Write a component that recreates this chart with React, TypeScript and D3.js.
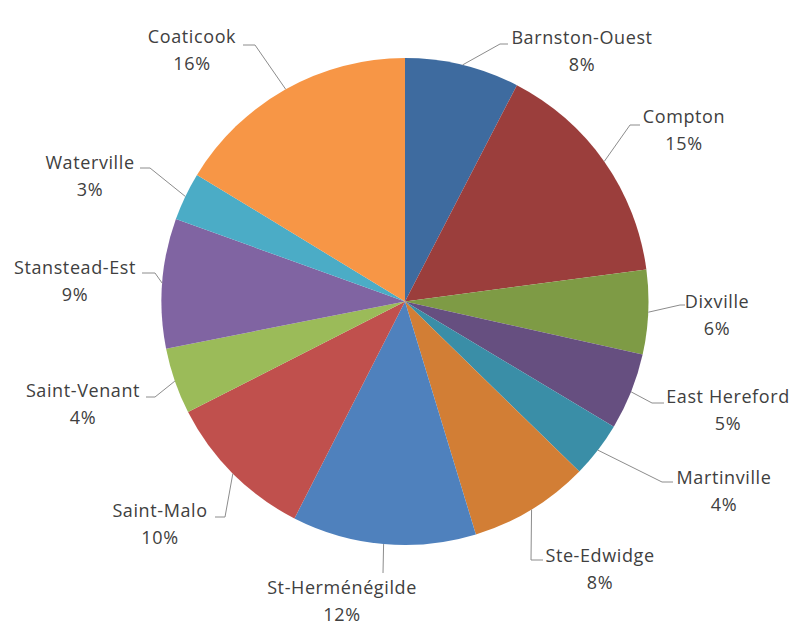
import React from "react";
import * as d3 from "d3";

const categories = [
  "Barnston-Ouest", "Compton", "Dixville", "East Hereford", "Martinville", "Ste-Edwidge",
  "St-Herménégilde", "Saint-Malo", "Saint-Venant", "Stanstead-Est", "Waterville", "Coaticook",
];
const values = [7.6, 15.3, 5.6, 5.1, 3.7, 8.0, 12.2, 10.0, 4.4, 8.6, 3.2, 16.3];
const colors = [
  "#3E6B9F", "#9B3E3C", "#7E9B45", "#664F80", "#3A8EA7", "#D27E35",
  "#4F81BD", "#C0504D", "#9BBB59", "#8064A2", "#4BACC6", "#F79646",
];

// label layout: text centre x, first baseline y, elbow point, leader end point
const labelLayout = [
  { x: 582, y: 44, elbow: [500, 44], end: [508, 44] },
  { x: 684, y: 123, elbow: [630, 125], end: [640, 125] },
  { x: 717, y: 308, elbow: [680, 305], end: [685, 305] },
  { x: 728, y: 403, elbow: [652, 403], end: [664, 403] },
  { x: 724, y: 484, elbow: [662, 482], end: [673, 482] },
  { x: 600, y: 562, elbow: [531, 560], end: [543, 560] },
  { x: 342, y: 594, elbow: [383, 573], end: [383, 573] },
  { x: 160, y: 517, elbow: [225, 517], end: [215, 517] },
  { x: 83, y: 397, elbow: [155, 397], end: [146, 397] },
  { x: 75, y: 274, elbow: [155, 273], end: [142, 273] },
  { x: 90, y: 169, elbow: [150, 168], end: [140, 168] },
  { x: 192, y: 43, elbow: [255, 45], end: [243, 45] },
];

const W = 794, H = 625;
const cx = 405, cy = 301.5, R = 243.5;

export default function App() {
  const total = d3.sum(values);
  const pie = d3.pie<number>().value((d) => d).sort(null);
  const arcs = pie(values);
  const arcGen = d3.arc<d3.PieArcDatum<number>>().innerRadius(0).outerRadius(R);
  const font = "'Open Sans', sans-serif";
  return (
    <svg width={W} height={H} style={{ position: "absolute", left: 0, top: 0, background: "#fff" }}>
      <g transform={`translate(${cx},${cy})`}>
        {arcs.map((a, i) => (
          <path key={i} d={arcGen(a) || ""} fill={colors[i]} />
        ))}
      </g>
      {arcs.map((a, i) => {
        const mid = (a.startAngle + a.endAngle) / 2;
        const sx = cx + R * Math.sin(mid);
        const sy = cy - R * Math.cos(mid);
        const L = labelLayout[i];
        const pct = Math.round((values[i] / total) * 100);
        return (
          <g key={i}>
            <polyline
              points={`${sx},${sy} ${L.elbow[0]},${L.elbow[1]} ${L.end[0]},${L.end[1]}`}
              fill="none"
              stroke="#8c8c8c"
              strokeWidth={1}
            />
            <text x={L.x} y={L.y} textAnchor="middle" fontFamily={font} fontSize={18} letterSpacing={0.6} fill="#404040">
              {categories[i]}
            </text>
            <text x={L.x} y={L.y + 27} textAnchor="middle" fontFamily={font} fontSize={18} letterSpacing={0.6} fill="#404040">
              {pct}%
            </text>
          </g>
        );
      })}
    </svg>
  );
}
